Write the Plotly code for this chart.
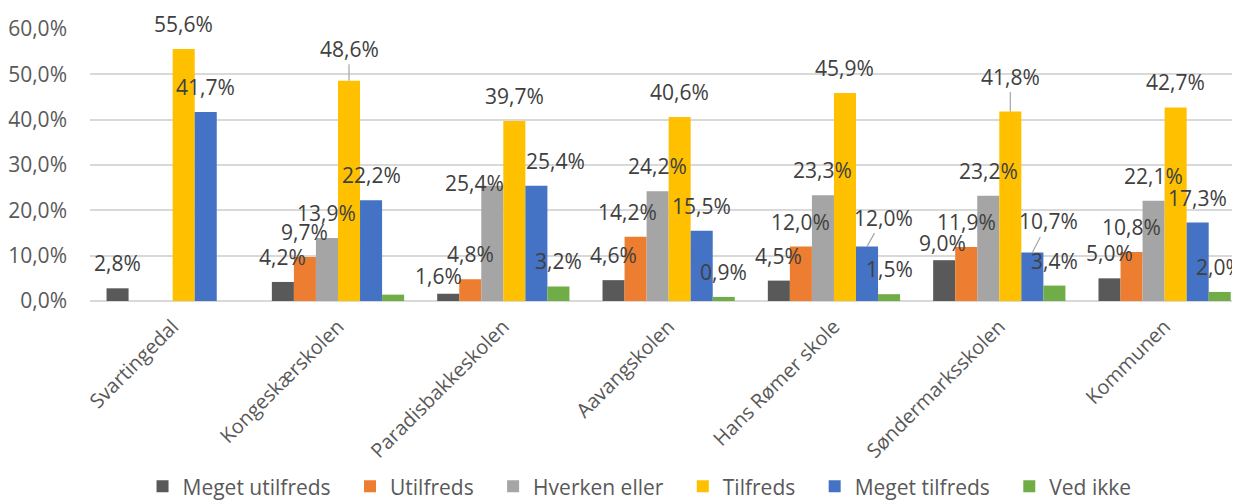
import plotly.graph_objects as go

categories = ["Svartingedal", "Kongeskærskolen", "Paradisbakkeskolen", "Aavangskolen",
              "Hans Rømer skole", "Søndermarksskolen", "Kommunen"]
series_names = ["Meget utilfreds", "Utilfreds", "Hverken eller", "Tilfreds", "Meget tilfreds", "Ved ikke"]
meget_utilfreds = [2.8, 4.2, 1.6, 4.6, 4.5, 9.0, 5.0]
utilfreds = [None, 9.7, 4.8, 14.2, 12.0, 11.9, 10.8]
hverken_eller = [None, 13.9, 25.4, 24.2, 23.3, 23.2, 22.1]
tilfreds = [55.6, 48.6, 39.7, 40.6, 45.9, 41.8, 42.7]
meget_tilfreds = [41.7, 22.2, 25.4, 15.5, 12.0, 10.7, 17.3]
ved_ikke = [None, 1.4, 3.2, 0.9, 1.5, 3.4, 2.0]
# labels hidden in the original chart
hidden_labels = {("Ved ikke", "Kongeskærskolen")}

series_values = [meget_utilfreds, utilfreds, hverken_eller, tilfreds, meget_tilfreds, ved_ikke]
colors = ["#595959", "#ED7D31", "#A5A5A5", "#FFC000", "#4472C4", "#70AD47"]

# style: label displacement in pixels (dx right, dy up, leader line)
label_offsets = {
    ("Tilfreds", "Kongeskærskolen"): (0, 7, True),
    ("Meget utilfreds", "Paradisbakkeskolen"): (-10, -7, False),
    ("Hverken eller", "Paradisbakkeskolen"): (-18, -22, False),
    ("Meget tilfreds", "Paradisbakkeskolen"): (19, 0, False),
    ("Utilfreds", "Aavangskolen"): (-8, 0, False),
    ("Meget tilfreds", "Hans Rømer skole"): (16, 4, True),
    ("Meget utilfreds", "Søndermarksskolen"): (-2, -8, False),
    ("Tilfreds", "Søndermarksskolen"): (0, 10, True),
    ("Meget tilfreds", "Søndermarksskolen"): (16, 6, True),
}

FONT = "Open Sans, Noto Sans, sans-serif"
FS = 21
LABEL_GAP = 25
bargap = 0.2
n = len(series_names)
bw = (1 - bargap) / n

fig = go.Figure()
annotations = []
for i, (name, vals, col) in enumerate(zip(series_names, series_values, colors)):
    legend_name = name + ("\u00a0\u00a0\u2009" if i < n - 1 else "")
    fig.add_trace(go.Bar(name=legend_name, x=categories, y=vals,
                         marker=dict(color=col, line=dict(width=0)),
                         hovertemplate=name + ": %{y:.1f}%<extra></extra>"))
    off = (i - (n - 1) / 2) * bw
    for j, v in enumerate(vals):
        key = (name, categories[j])
        if v is None or key in hidden_labels:
            continue
        dx, dy, leader = label_offsets.get(key, (0, 0, False))
        txt = f"{v:.1f}".replace(".", ",") + "%"
        common = dict(x=j + off, y=v, xref="x", yref="y", text=txt,
                      font=dict(family=FONT, size=FS, color="#404040"))
        if leader:
            annotations.append(dict(common, showarrow=True, arrowhead=0, arrowwidth=1.2,
                                    arrowcolor="#A6A6A6", standoff=0,
                                    ax=dx, ay=-(LABEL_GAP + dy)))
        else:
            annotations.append(dict(common, showarrow=False, yanchor="middle", xanchor="center",
                                    xshift=dx, yshift=LABEL_GAP + dy))

# the page places the figure 8px from the top-left corner of the window
fig.update_layout(
    width=1232, height=492,
    barmode="group", bargap=bargap, bargroupgap=0,
    plot_bgcolor="white", paper_bgcolor="white",
    margin=dict(l=82, r=0, t=21, b=199),
    font=dict(family=FONT, size=FS, color="#595959"),
    annotations=annotations,
    showlegend=True,
    legend=dict(orientation="h", xref="container", yref="container",
                x=0.1092, xanchor="left", y=0.027, yanchor="middle",
                font=dict(family=FONT, size=FS, color="#595959"), itemwidth=30,
                traceorder="normal"),
    separators=",.",
)
fig.update_yaxes(range=[0, 60], dtick=10, tickformat=".1f", ticksuffix="%",
                 showgrid=True, gridcolor="#D9D9D9", gridwidth=1.5,
                 zeroline=True, zerolinecolor="#D9D9D9", zerolinewidth=1.5,
                 showline=False, ticks="", ticklabelstandoff=22, automargin=False,
                 tickfont=dict(family=FONT, size=FS, color="#595959"))
fig.update_xaxes(range=[-0.5, 6.456], tickangle=-45, showline=False, ticks="",
                 ticklabelstandoff=9, automargin=False,
                 tickfont=dict(family=FONT, size=20, color="#595959"))

fig.write_html("out.html")
